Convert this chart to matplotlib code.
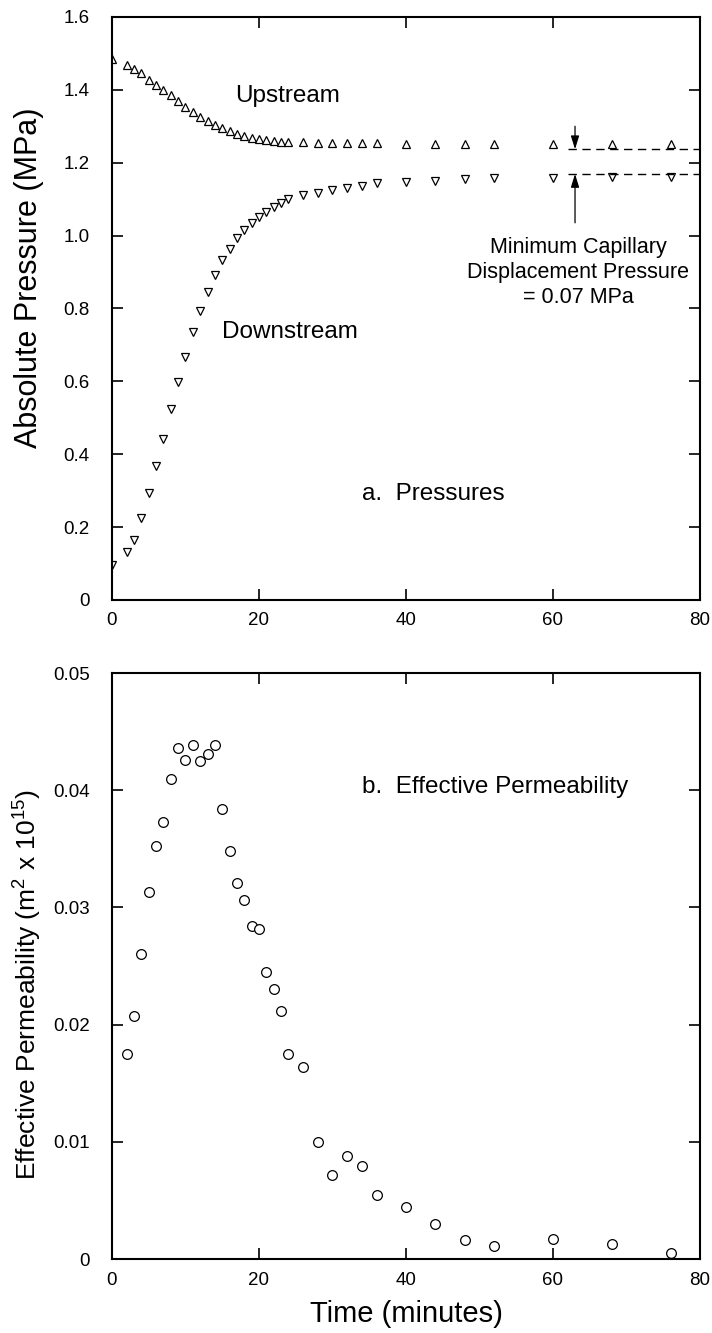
import matplotlib
matplotlib.use('Agg')
import matplotlib.pyplot as plt
from matplotlib.ticker import FixedLocator, FuncFormatter

plt.rcParams['font.family'] = ['Liberation Sans', 'DejaVu Sans']
plt.rcParams['mathtext.fontset'] = 'custom'
plt.rcParams['mathtext.rm'] = 'Liberation Sans'
plt.rcParams['mathtext.it'] = 'Liberation Sans:italic'

# ---- data ----
time_p = [0, 2, 3, 4, 5, 6, 7, 8, 9, 10, 11, 12, 13, 14, 15, 16, 17, 18, 19, 20,
          21, 22, 23, 24, 26, 28, 30, 32, 34, 36, 40, 44, 48, 52, 60, 68, 76]
upstream = [1.485, 1.468, 1.457, 1.445, 1.428, 1.414, 1.400, 1.385, 1.368, 1.354,
            1.338, 1.326, 1.314, 1.303, 1.294, 1.286, 1.280, 1.274, 1.269, 1.265,
            1.262, 1.260, 1.258, 1.257, 1.256, 1.255, 1.254, 1.253, 1.253, 1.253,
            1.252, 1.252, 1.252, 1.252, 1.252, 1.251, 1.251]
downstream = [0.096, 0.131, 0.165, 0.224, 0.293, 0.368, 0.441, 0.523, 0.598, 0.668,
              0.735, 0.793, 0.845, 0.892, 0.933, 0.963, 0.993, 1.014, 1.035, 1.052,
              1.065, 1.078, 1.089, 1.100, 1.110, 1.118, 1.125, 1.131, 1.136, 1.143,
              1.148, 1.150, 1.154, 1.157, 1.157, 1.160, 1.162]

time_k = [2, 3, 4, 5, 6, 7, 8, 9, 10, 11, 12, 13, 14, 15, 16, 17, 18, 19, 20, 21,
          22, 23, 24, 26, 28, 30, 32, 34, 36, 40, 44, 48, 52, 60, 68, 76]
permeability = [0.0175, 0.0207, 0.0260, 0.0313, 0.0352, 0.0373, 0.0410, 0.0436,
                0.0426, 0.0439, 0.0425, 0.0431, 0.0439, 0.0384, 0.0348, 0.0321,
                0.0306, 0.0284, 0.0282, 0.0245, 0.0230, 0.0212, 0.0175, 0.0164,
                0.0100, 0.0072, 0.0088, 0.0079, 0.0055, 0.0044, 0.0030, 0.0016,
                0.0011, 0.0017, 0.0013, 0.0005]

x_ticks = [0, 20, 40, 60, 80]
p_ticks = [0, 0.2, 0.4, 0.6, 0.8, 1.0, 1.2, 1.4, 1.6]
k_ticks = [0, 0.01, 0.02, 0.03, 0.04, 0.05]

upper_level = 1.237
lower_level = 1.169

# ---- figure ----
fig = plt.figure(figsize=(7.12, 13.33), dpi=100)
ax1 = fig.add_axes([0.1573, 0.5499, 0.8258, 0.4374])
ax2 = fig.add_axes([0.1573, 0.0555, 0.8258, 0.4396])

mk = dict(ls='none', mfc='white', mec='black', mew=0.9)
ax1.plot(time_p, upstream, marker='^', ms=5.5, **mk)
ax1.plot(time_p, downstream, marker='v', ms=5.5, **mk)
ax2.plot(time_k, permeability, marker='o', ms=7, **mk)

for ax in (ax1, ax2):
    ax.set_xlim(0, 80)
    ax.xaxis.set_major_locator(FixedLocator(x_ticks))
    ax.tick_params(direction='in', length=8, width=1.2, top=True, right=True,
                   labelsize=13.5)
    ax.tick_params(axis='x', pad=9)
    ax.tick_params(axis='y', pad=16)
    for s in ax.spines.values():
        s.set_linewidth(1.5)

ax1.set_ylim(0, 1.6)
ax1.yaxis.set_major_locator(FixedLocator(p_ticks))
ax1.yaxis.set_major_formatter(FuncFormatter(lambda v, p: '0' if v == 0 else f'{v:.1f}'))
ax2.set_ylim(0, 0.05)
ax2.yaxis.set_major_locator(FixedLocator(k_ticks))
ax2.yaxis.set_major_formatter(FuncFormatter(lambda v, p: '0' if v == 0 else f'{v:.2f}'))

ax1.set_ylabel('Absolute Pressure (MPa)', fontsize=22)
ax1.yaxis.set_label_coords(-0.116, 0.552)
ax2.set_ylabel('Effective Permeability (m$^2$ x 10$^{15}$)', fontsize=19)
ax2.yaxis.set_label_coords(-0.116, 0.468)
ax2.set_xlabel('Time (minutes)', fontsize=21, labelpad=8)

# annotations
ax1.text(16.7, 1.367, 'Upstream', fontsize=17.5, va='baseline', ha='left')
ax1.text(15.0, 0.719, 'Downstream', fontsize=17.5, va='baseline', ha='left')
ax1.text(34.0, 0.274, 'a.  Pressures', fontsize=17.5, va='baseline', ha='left')
ax2.text(34.0, 0.0398, 'b.  Effective Permeability', fontsize=17.5, va='baseline', ha='left')

ax1.plot([62, 80], [upper_level, upper_level], color='black', lw=1.0, dashes=(6, 4))
ax1.plot([62, 80], [lower_level, lower_level], color='black', lw=1.0, dashes=(6, 4))
arrow = dict(arrowstyle='-|>,head_length=0.8,head_width=0.25', color='black', lw=0.9,
             mutation_scale=10, shrinkA=0, shrinkB=0)
ax1.annotate('', xy=(63, upper_level), xytext=(63, 1.30), arrowprops=arrow)
ax1.annotate('', xy=(63, lower_level), xytext=(63, 1.035), arrowprops=arrow)
ax1.text(63.4, 0.90, 'Minimum Capillary\nDisplacement Pressure\n= 0.07 MPa',
         fontsize=15.5, ha='center', va='center', multialignment='center',
         linespacing=1.25)

fig.savefig('out.png', dpi=100)
